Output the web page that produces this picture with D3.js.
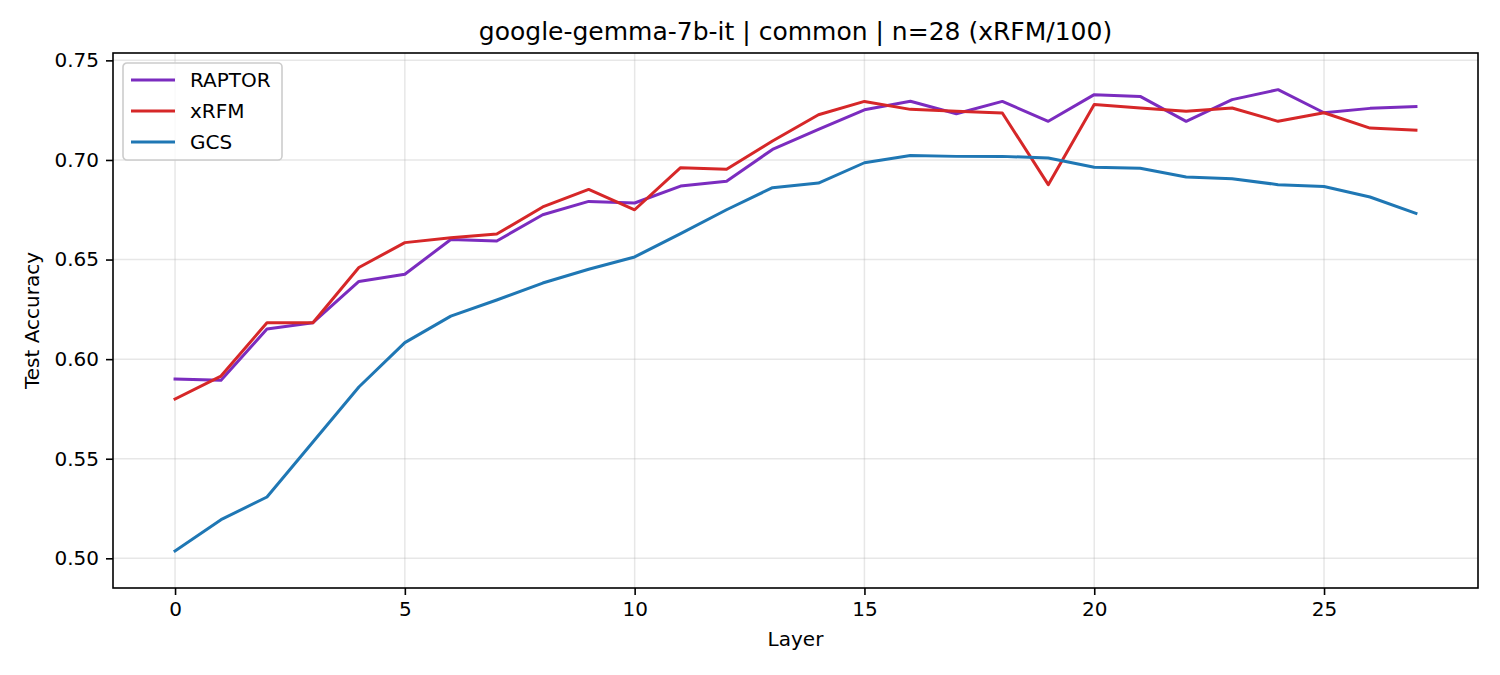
<!DOCTYPE html>
<html>
<head>
<meta charset="utf-8">
<script src="https://cdn.jsdelivr.net/npm/d3@7"></script>
<style>
  body { margin: 0; background: #fff; }
  text { font-family: "DejaVu Sans", sans-serif; fill: #000; }
</style>
</head>
<body>
<script>
// Width and height
const w = 1500;
const h = 675;

const layers = d3.range(28);
const raptor = [0.590, 0.5894, 0.6151, 0.6183, 0.639, 0.6426, 0.6601, 0.6593, 0.6725, 0.6792,
                0.6784, 0.6869, 0.6893, 0.7053, 0.7154, 0.7252, 0.7295, 0.7232, 0.7294, 0.7194,
                0.7328, 0.7319, 0.7194, 0.7303, 0.7353, 0.7237, 0.7259, 0.7268];
const xrfm   = [0.580, 0.5915, 0.6183, 0.6183, 0.646, 0.6585, 0.661, 0.6628, 0.6764, 0.6852,
                0.675, 0.6961, 0.6953, 0.7095, 0.7227, 0.7294, 0.7254, 0.7244, 0.7236, 0.6876,
                0.7278, 0.7261, 0.7244, 0.7261, 0.7194, 0.7237, 0.716, 0.715];
const gcs    = [0.5037, 0.5194, 0.5308, 0.5584, 0.586, 0.6083, 0.6216, 0.6297, 0.6382, 0.6451,
                0.6513, 0.663, 0.675, 0.6861, 0.6884, 0.6986, 0.7022, 0.7018, 0.7018, 0.701,
                0.6963, 0.6958, 0.6914, 0.6906, 0.6876, 0.6867, 0.6814, 0.6732];

const seriesNames = ["RAPTOR", "xRFM", "GCS"];
const seriesColors = ["#7b2cbf", "#d62728", "#1f77b4"];
const seriesData = [raptor, xrfm, gcs];

const xTicks = [0, 5, 10, 15, 20, 25];
const yTicks = [0.50, 0.55, 0.60, 0.65, 0.70, 0.75];

const titleText = "google-gemma-7b-it | common | n=28 (xRFM/100)";

const margin = {left: 113, right: 22, top: 53, bottom: 87};
const iw = w - margin.left - margin.right;
const ih = h - margin.top - margin.bottom;

const xScale = d3.scaleLinear().domain([-1.35, 28.35]).range([0, iw]);
const yScale = d3.scaleLinear().domain([0.4851, 0.7537]).range([ih, 0]);

const svg = d3.select("body").append("svg")
    .attr("width", w)
    .attr("height", h);

const g = svg.append("g").attr("transform", `translate(${margin.left},${margin.top})`);

// grid
g.selectAll(".gx").data(xTicks).join("line")
    .attr("x1", d => xScale(d)).attr("x2", d => xScale(d))
    .attr("y1", 0).attr("y2", ih)
    .attr("stroke", "#b0b0b0").attr("stroke-opacity", 0.3).attr("stroke-width", 1.5);
g.selectAll(".gy").data(yTicks).join("line")
    .attr("y1", d => yScale(d)).attr("y2", d => yScale(d))
    .attr("x1", 0).attr("x2", iw)
    .attr("stroke", "#b0b0b0").attr("stroke-opacity", 0.3).attr("stroke-width", 1.5);

// axes
const xAxis = g.append("g").attr("transform", `translate(0,${ih})`)
    .call(d3.axisBottom(xScale).tickValues(xTicks).tickFormat(d3.format("d")).tickSizeOuter(0).tickSize(7).tickPadding(7));
const yAxis = g.append("g")
    .call(d3.axisLeft(yScale).tickValues(yTicks).tickFormat(d3.format(".2f")).tickSizeOuter(0).tickSize(7).tickPadding(7));
[xAxis, yAxis].forEach(a => {
    a.select(".domain").remove();
    a.selectAll("line").attr("stroke", "#000").attr("stroke-width", 1.6);
    a.selectAll("text").attr("font-size", "20px").attr("fill", "#000")
        .attr("font-family", "DejaVu Sans, sans-serif");
});

// lines
const line = d3.line().x((d, i) => xScale(layers[i])).y(d => yScale(d));
g.selectAll(".series").data(seriesData).join("path")
    .attr("d", d => line(d))
    .attr("fill", "none")
    .attr("stroke", (d, i) => seriesColors[i])
    .attr("stroke-width", 3)
    .attr("stroke-linejoin", "round")
    .attr("stroke-linecap", "square");

// frame
g.append("rect").attr("width", iw).attr("height", ih)
    .attr("fill", "none").attr("stroke", "#000").attr("stroke-width", 1.6);

// legend
const lg = g.append("g").attr("transform", "translate(10,10)");
lg.append("rect").attr("width", 159).attr("height", 97).attr("rx", 4)
    .attr("fill", "#fff").attr("fill-opacity", 0.8)
    .attr("stroke", "#cccccc").attr("stroke-width", 1.6);
seriesNames.forEach((name, i) => {
    const yy = 17 + i * 31;
    lg.append("line").attr("x1", 8).attr("x2", 52).attr("y1", yy).attr("y2", yy)
        .attr("stroke", seriesColors[i]).attr("stroke-width", 3);
    lg.append("text").attr("x", 67).attr("y", yy).attr("dy", "0.35em")
        .attr("font-size", "20px").text(name);
});

// labels
svg.append("text").attr("x", margin.left + iw / 2).attr("y", 40)
    .attr("text-anchor", "middle").attr("font-size", "25px").text(titleText);
svg.append("text").attr("x", margin.left + iw / 2).attr("y", 646)
    .attr("text-anchor", "middle").attr("font-size", "20px").text("Layer");
svg.append("text").attr("transform", `translate(39,${margin.top + ih / 2}) rotate(-90)`)
    .attr("text-anchor", "middle").attr("font-size", "20px").text("Test Accuracy");
</script>
</body>
</html>
